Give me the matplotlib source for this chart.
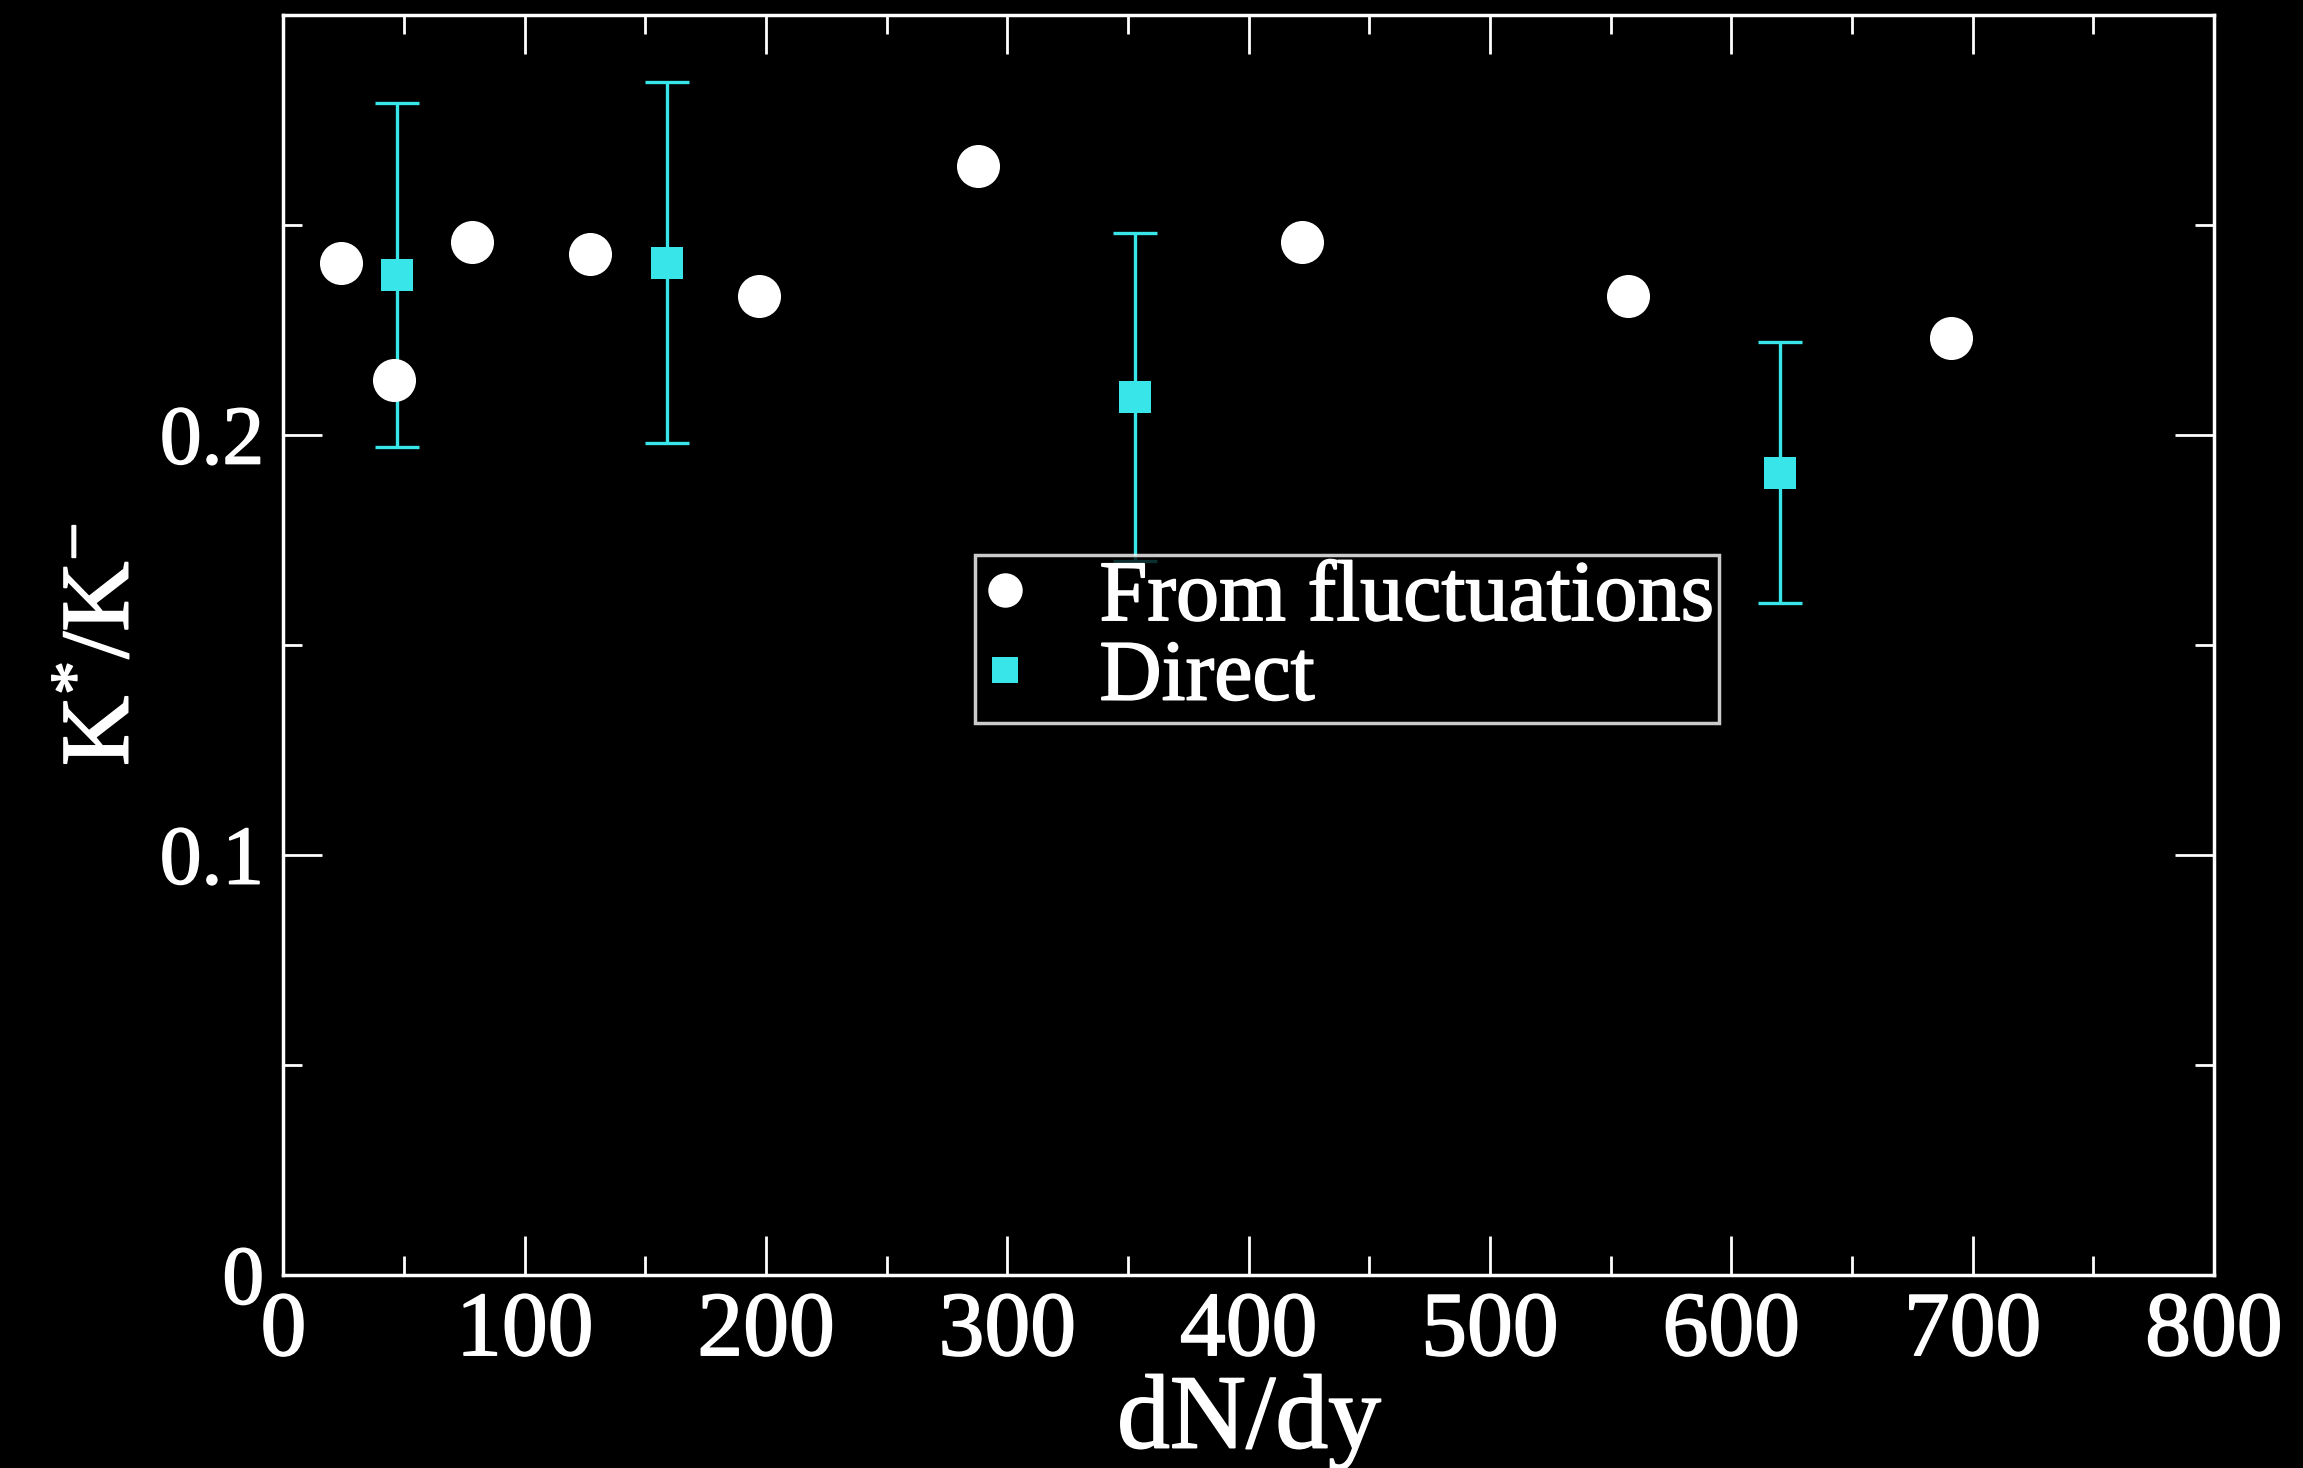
import matplotlib
matplotlib.use('Agg')
import matplotlib.pyplot as plt
import matplotlib.patheffects as pe
from matplotlib.ticker import MultipleLocator, FixedLocator

# Data
fluct_x = [24, 46, 78, 127, 197, 288, 422, 557, 691]
fluct_y = [0.241, 0.213, 0.246, 0.243, 0.233, 0.264, 0.246, 0.233, 0.223]

direct_x = [47, 159, 353, 620]
direct_y = [0.238, 0.241, 0.209, 0.191]
direct_err = [0.041, 0.043, 0.039, 0.031]

x_ticks = [0, 100, 200, 300, 400, 500, 600, 700, 800]
y_ticks = [0.0, 0.1, 0.2]
y_tick_labels = ['0', '0.1', '0.2']

plt.rcParams['font.family'] = ['Liberation Serif', 'DejaVu Serif']
plt.rcParams['mathtext.fontset'] = 'custom'
plt.rcParams['mathtext.rm'] = 'Liberation Serif'
plt.rcParams['mathtext.it'] = 'Liberation Serif:italic'

W, H = 2303, 1468
fig = plt.figure(figsize=(W / 100, H / 100), dpi=100, facecolor='black')
ax = fig.add_axes([0.1231, 0.1315, 0.9613 - 0.1231, 0.99 - 0.1315], facecolor='black')

cyan = '#38e6ea'
bold = [pe.withStroke(linewidth=1.2, foreground='white')]

ax.errorbar(direct_x, direct_y, yerr=direct_err, fmt='none', ecolor=cyan,
            elinewidth=2.4, capsize=16, capthick=2.4, zorder=2)
ax.plot(fluct_x, fluct_y, 'o', color='white', markersize=31, markeredgewidth=0,
        label='From fluctuations', zorder=3)
ax.plot(direct_x, direct_y, 's', color=cyan, markersize=23, markeredgewidth=0,
        label='Direct', zorder=3)

ax.set_xlim(0, 800)
ax.set_ylim(0, 0.3)
ax.xaxis.set_major_locator(FixedLocator(x_ticks))
ax.xaxis.set_minor_locator(MultipleLocator(50))
ax.yaxis.set_major_locator(FixedLocator(y_ticks))
ax.yaxis.set_minor_locator(FixedLocator([0.05, 0.15, 0.25]))
ax.set_yticklabels(y_tick_labels)

for s in ax.spines.values():
    s.set_color('white')
    s.set_linewidth(2.5)

ax.tick_params(which='both', direction='in', top=True, right=True, colors='white', width=2)
ax.tick_params(which='major', length=28)
ax.tick_params(which='minor', length=14)
ax.tick_params(axis='x', which='major', labelsize=66, pad=12)
ax.tick_params(axis='y', which='major', labelsize=60, pad=14)

for lab in ax.get_xticklabels() + ax.get_yticklabels():
    lab.set_path_effects(bold)

ax.set_xlabel('dN/dy', fontsize=76, color='white', labelpad=0, path_effects=bold)
ax.set_ylabel(r'K$^{*}$/K$^{-}$', fontsize=70, color='white', labelpad=8, path_effects=bold)

leg = ax.legend(loc='upper left', bbox_to_anchor=(0.358, 0.571), fontsize=62,
                frameon=True, fancybox=False, facecolor='black', edgecolor='white',
                labelcolor='white', handlelength=0.6, handletextpad=0.8,
                borderpad=0.05, labelspacing=0.0, borderaxespad=0,
                markerscale=0.8)
leg.get_frame().set_linewidth(2.5)
leg.set_zorder(5)
for t in leg.get_texts():
    t.set_path_effects(bold)

fig.savefig('out.png', dpi=100, facecolor='black')
